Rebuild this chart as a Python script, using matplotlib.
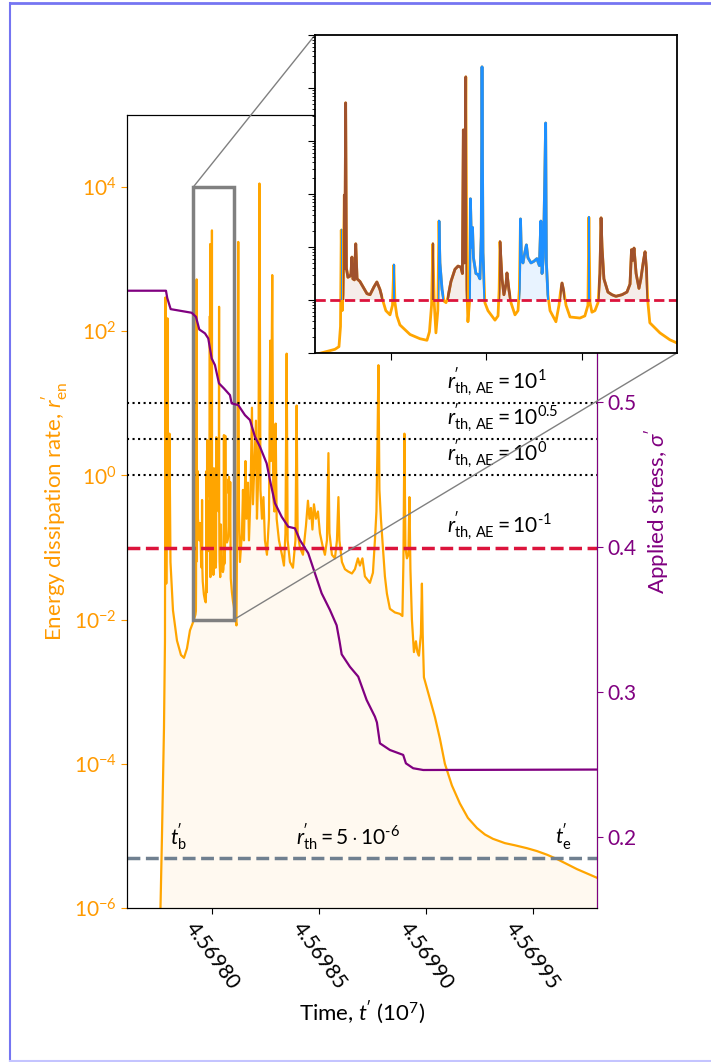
import numpy as np
import matplotlib
matplotlib.use("Agg")
import matplotlib.pyplot as plt
from matplotlib.patches import Rectangle
from matplotlib.lines import Line2D
from matplotlib.ticker import FormatStrFormatter, NullLocator, NullFormatter, LogLocator
from mpl_toolkits.axes_grid1.inset_locator import mark_inset

plt.rcParams["font.family"] = ["Lato", "DejaVu Sans"]
plt.rcParams["mathtext.fontset"] = "custom"
plt.rcParams["mathtext.rm"] = "Lato"
plt.rcParams["mathtext.it"] = "Lato:italic"
plt.rcParams["mathtext.bf"] = "Lato:bold"
plt.rcParams["axes.unicode_minus"] = False

# time t' = (T_BASE + t_off), shown on the axis in units of 1e7
T_BASE = 45697000

# energy dissipation rate, log10(r'_en)
t_off = [749.8, 763.8, 773.2, 777.8, 780.2, 783.9, 789.5, 793.3, 798.9, 803.6,
         815.3, 834.0, 852.7, 866.8, 880.8, 894.8,
         910.0, 915.2, 920.5, 922.6, 923.4, 923.8, 924.3, 924.7, 925.4, 925.7,
         926.1, 926.5, 927.3, 928.4, 928.9, 929.4, 929.9, 930.7, 931.4, 932.1,
         933.6, 935.2, 937.3, 938.9, 941.0, 942.5, 944.1, 945.7, 947.2, 949.4,
         950.7, 951.4, 952.0, 953.0, 954.6, 959.9, 965.1, 968.8, 970.1, 971.2,
         971.9, 972.6, 973.5, 974.5, 975.1, 975.6, 976.7, 977.7, 978.8, 979.8,
         981.4, 983.5, 985.1, 986.6, 987.4, 987.9, 988.5, 989.2, 989.8, 990.3,
         991.1, 991.6, 992.2, 992.7, 993.2, 994.5, 995.6, 996.6, 997.3, 997.7,
         998.2, 999.2, 1000.8, 1004.5, 1006.1, 1006.7, 1007.1, 1008.2, 1009.2,
         1010.3, 1010.8, 1011.8, 1012.9, 1015.0, 1016.6, 1017.3, 1017.9, 1018.4,
         1019.2, 1020.2, 1021.0, 1021.8, 1023.4, 1024.9, 1026.5, 1027.8, 1028.6,
         1029.2, 1029.9, 1030.6, 1031.1, 1031.5, 1032.3, 1033.4, 1036.5, 1038.1,
         1038.9, 1039.7, 1040.7, 1041.8, 1043.9, 1049.1, 1051.7, 1053.3, 1053.8,
         1054.4, 1055.4, 1057.0, 1058.6, 1059.6, 1060.2, 1060.7, 1061.7, 1063.8,
         1065.9, 1068.0, 1071.2, 1073.8, 1075.4, 1076.2, 1076.9, 1077.5, 1078.6,
         1080.1, 1081.1, 1082.5, 1083.3, 1084.0, 1084.8, 1085.8, 1091.1, 1096.3,
         1100.0,
         1105.4, 1112.5, 1117.1, 1120.9, 1124.2, 1128.8, 1138.2, 1142.9, 1147.6,
         1154.6, 1159.3, 1166.3, 1171.0, 1178.0, 1185.0, 1189.7, 1196.7, 1203.7,
         1208.4, 1215.4, 1220.1, 1224.8, 1231.8, 1238.8, 1245.8, 1255.2, 1264.6,
         1270.6, 1273.9, 1280.0, 1284.7, 1290.3, 1295.9, 1300.6, 1311.4, 1325.4,
         1334.8, 1341.8, 1347.4, 1352.1, 1362.8, 1376.9, 1388.6, 1394.2, 1398.9,
         1409.6, 1423.7, 1437.7, 1447.1, 1454.1, 1461.1, 1468.1, 1475.2, 1484.5,
         1493.9, 1503.2, 1517.3, 1526.6, 1536.0, 1543.0, 1547.7, 1559.4, 1573.4,
         1582.8, 1589.8, 1594.5, 1606.2, 1620.2, 1634.3, 1653.0, 1667.0, 1681.1,
         1690.4, 1702.1, 1713.8, 1737.2, 1751.3, 1760.6, 1767.7, 1772.3, 1777.0,
         1781.7, 1788.7, 1798.1, 1807.4, 1816.8, 1830.8, 1854.2, 1877.6, 1889.3,
         1894.0, 1898.7, 1903.4, 1910.4, 1917.4, 1922.1, 1926.8, 1933.8, 1943.2,
         1952.5, 1959.5, 1966.6, 1975.9, 1980.6, 1984.3, 1990.0, 2018.0, 2041.4,
         2064.8, 2088.2, 2121.0, 2158.4, 2195.9, 2238.0, 2275.4, 2312.9, 2369.0,
         2415.8, 2472.0, 2518.8, 2565.6, 2612.4, 2659.2, 2706.0, 2752.8, 2799.6]
log_rate = [-7.0, -5.0, -3.5, -2.3, 2.47, -1.5, 2.18, -1.0, 0.58, -1.2,
            -1.87, -2.29, -2.49, -2.53, -2.40, -2.15,
            -2.03, -1.98, -1.93, -1.88, -1.5, 0.32, -1.2, -0.9, 0.98, -0.4,
            2.72, -0.4, -0.57, -0.55, -0.5, -0.19, -0.6, -0.62, 0.06, -0.6,
            -0.65, -0.75, -0.88, -0.9, -0.75, -0.66, -0.8, -1.02, -1.2, -1.28,
            -1.1, -0.34, -1.05, -1.3, -1.47, -1.65, -1.73, -1.76, -1.6, -1.1,
            0.06, -1.05, -1.62, -1.2, 0.49, -0.3, -0.8, -1.02, -1.05, -0.95,
            -0.65, -0.42, -0.36, -0.38, -0.5, 2.21, -0.3, 3.21, -0.8, -1.41,
            -1.05, 0.91, 0.0, 0.37, -0.2, -0.5, -0.52, -0.6, 0.2, 3.40,
            -0.1, -1.05, -1.2, -1.38, -1.3, -0.8, 0.1, -0.6, -0.9,
            -0.7, -0.49, -0.8, -1.05, -1.28, -1.2, -0.8, 0.53, -0.2,
            -0.3, -0.1, 0.04, -0.2, -0.3, -0.27, -0.22, -0.35, 0.49,
            -0.5, -0.2, 1.2, 2.34, -0.3, -0.9, -1.2, -1.41, -1.1,
            -0.85, -0.68, -0.85, -1.1, -1.32, -1.34, -1.3, -1.1, 0.56,
            -1.05, -1.23, -1.2, -1.05, -0.5, 0.55, 0.0, -0.6, -0.85,
            -0.9, -0.93, -0.9, -0.85, -0.7, -0.05, -0.25, -0.02, -0.5,
            -0.78, -0.6, -0.25, -0.09, -0.4, -1.05, -1.43, -1.62, -1.75,
            -1.81,
            -1.95, -2.08, 0.0, 3.24, -0.5, -1.2, -0.8, -0.2, -0.9,
            0.2, -0.6, -0.1, -0.9, -0.3, 0.94, -0.4, 0.2, 0.76,
            -0.6, 0.1, 4.05, -0.2, -0.6, -0.3, -0.9, -1.1, -0.6,
            1.87, 0.2, 2.78, -0.3, -0.5, 0.72, -0.6, -0.9, -1.1,
            -1.25, -0.8, 1.69, -0.9, -1.2, -1.28, -0.9, 0.97, -0.8,
            -1.0, -1.1, -0.7, -0.35, -0.6, -0.45, -0.75, -0.4, -0.6,
            -0.5, -0.8, -1.0, -1.1, -0.9, 0.31, -0.8, -1.1, -1.15,
            -0.9, -0.3, -0.9, -1.2, -1.3, -1.33, -1.36, -1.3, -1.15,
            -1.25, -1.15, -1.4, -1.49, -1.35, -0.9, -0.5, 0.35, 1.53,
            -0.2, -0.6, -1.0, -1.4, -1.64, -1.85, -1.9, -1.92, -1.95,
            -1.2, 0.58, -1.0, -1.15, -1.1, -0.3, -1.3, -2.0, -2.45,
            -2.3, -2.45, -2.5, -2.2, -1.5, -2.2, -2.8, -3.1, -3.35,
            -3.65, -4.0, -4.3, -4.55, -4.75, -4.89, -4.98, -5.04, -5.1,
            -5.13, -5.17, -5.21, -5.26, -5.32, -5.39, -5.46, -5.52, -5.58]

# applied stress sigma'
stress_t_off = [600, 782.5, 788.6, 804.5, 848.0, 902.8, 922.9, 938.4, 965.0, 980.5,
                996.4, 1011.8, 1030.6, 1054.0, 1082.0, 1090.0, 1120.9, 1152.2,
                1175.6, 1199.0, 1222.4, 1253.8, 1269.2, 1292.6, 1324.0, 1354.9,
                1386.2, 1409.6, 1448.5, 1479.8, 1511.2, 1550.0, 1581.4, 1595.0,
                1605.0, 1643.6, 1682.5, 1721.8, 1760.6, 1770.0, 1784.0, 1830.8,
                1893.0, 1905.7, 1939.8, 1986.6, 2799.6]
stress = [0.5768, 0.5768, 0.5717, 0.5641, 0.5630, 0.5616, 0.5588, 0.5501, 0.5474,
          0.5439, 0.5301, 0.5255, 0.5129, 0.5094, 0.5048, 0.4991, 0.4979, 0.4910,
          0.4876, 0.4761, 0.4692, 0.4577, 0.4462, 0.4303, 0.4209, 0.4140, 0.4129,
          0.4048, 0.3957, 0.3819, 0.3681, 0.3566, 0.3460, 0.3350, 0.3260, 0.3174,
          0.3106, 0.2945, 0.2830, 0.2790, 0.2646, 0.2600, 0.2566, 0.2508, 0.2474,
          0.2462, 0.2465]

P = r"^{\!\prime}"  # prime set close to its letter
ae_levels = [10 ** 1, 10 ** 0.5, 10 ** 0, 10 ** -1]
ae_labels = [r"$r%s_{\mathrm{th,\,AE}} = 10^{1}$" % P, r"$r%s_{\mathrm{th,\,AE}} = 10^{0.5}$" % P,
             r"$r%s_{\mathrm{th,\,AE}} = 10^{0}$" % P, r"$r%s_{\mathrm{th,\,AE}} = 10^{\text{-}1}$" % P]
r_th = 5e-6
inset_off = (910, 1100)

ORANGE = "orange"
TXT_ORANGE = "#ff9a00"
PURPLE = "purple"
event_colors = ["#1e90ff", "#a0522d"]

t = (T_BASE + np.array(t_off)) / 1e7
rate = 10 ** np.array(log_rate)
st = (T_BASE + np.array(stress_t_off)) / 1e7
r_ae = ae_levels[-1]

fig = plt.figure(figsize=(7.11, 10.62), dpi=100)
ax = fig.add_axes([0.1786, 0.145, 0.661, 0.7467])

ax.fill_between(t, 1e-8, rate, color=ORANGE, alpha=0.06, lw=0)
ax.plot(t, rate, color=ORANGE, lw=1.6)
for lv in ae_levels[:3]:
    ax.axhline(lv, color="k", ls=":", lw=1.5)
ax.axhline(r_ae, color="crimson", ls="--", lw=2.5)
ax.axhline(r_th, color="slategray", ls="--", lw=2.5)

ax.set_yscale("log")
ax.set_ylim(1e-6, 1e5)
ax.set_xlim((T_BASE + 600) / 1e7, (T_BASE + 2800) / 1e7)
ax.set_yticks([1e-6, 1e-4, 1e-2, 1e0, 1e2, 1e4])
ax.yaxis.set_minor_locator(NullLocator())
ax.set_xticks([4.5698, 4.56985, 4.5699, 4.56995])
ax.xaxis.set_major_formatter(FormatStrFormatter("%.5f"))
ax.tick_params(axis="x", labelsize=15, length=4)
ax.tick_params(axis="y", colors=TXT_ORANGE, labelsize=15, length=4)
for lbl in ax.get_xticklabels():
    lbl.set_rotation(-54)
    lbl.set_color("k")
ax.set_xlabel(r"Time, $t%s$ $(10^7)$" % P, fontsize=16)
ax.set_ylabel(r"Energy dissipation rate, $r%s_{\mathrm{en}}$" % P, fontsize=16,
              color=TXT_ORANGE, labelpad=2)

x_lab = (T_BASE + 2098) / 1e7
for lv, lab in zip(ae_levels, ae_labels):
    ax.text(x_lab, lv * 1.12, lab, fontsize=15, ha="left", va="bottom")
ax.text((T_BASE + 801) / 1e7, r_th * 1.15, r"$t%s_{\mathrm{b}}$" % P, fontsize=15, ha="left", va="bottom")
ax.text((T_BASE + 1634) / 1e7, r_th * 1.15, r"$r%s_{\mathrm{th}} = 5\cdot10^{\text{-}6}$" % P,
        fontsize=15, ha="center", va="bottom")
ax.text((T_BASE + 2603) / 1e7, r_th * 1.15, r"$t%s_{\mathrm{e}}$" % P, fontsize=15, ha="left", va="bottom")

ax2 = ax.twinx()
ax2.plot(st, stress, color=PURPLE, lw=1.6)
ax2.set_ylim(0.151, 0.698)
ax2.set_yticks([0.2, 0.3, 0.4, 0.5])
ax2.spines["right"].set_color(PURPLE)
ax2.tick_params(axis="y", colors=PURPLE, labelsize=15, length=4)
ax2.set_ylabel(r"Applied stress, $\sigma%s$" % P, fontsize=16, color=PURPLE)

# inset
axins = fig.add_axes([0.443, 0.6676, 0.509, 0.2994])
axins.plot(t, rate, color=ORANGE, lw=2)
lr = np.array(log_rate)
thr = np.log10(r_ae)
lo, hi = (T_BASE + inset_off[0]) / 1e7, (T_BASE + inset_off[1]) / 1e7
above = lr > thr
k = 0
i = 1
while i < len(lr):
    if above[i] and not above[i - 1]:
        j = i
        while j + 1 < len(lr) and above[j + 1]:
            j += 1
        xs = t[i - 1] + (thr - lr[i - 1]) / (lr[i] - lr[i - 1]) * (t[i] - t[i - 1])
        xe = t[j] + (thr - lr[j]) / (lr[j + 1] - lr[j]) * (t[j + 1] - t[j])
        if lo <= xs <= hi:
            c = event_colors[k % 2]
            k += 1
            clip = Rectangle((xs, r_ae), xe - xs, 1e8, transform=axins.transData)
            f = axins.fill_between(t, r_ae, rate, color=c, alpha=0.1, lw=0)
            f.set_clip_path(clip)
            ln, = axins.plot(t, rate, color=c, lw=2)
            ln.set_clip_path(clip)
        i = j + 1
    i += 1
axins.axhline(r_ae, color="crimson", ls="--", lw=2)
axins.set_yscale("log")
axins.set_xlim(lo, hi)
axins.set_ylim(1e-2, 1e4)
axins.set_xticks([4.569795, 4.5698, 4.569805])
axins.yaxis.set_major_locator(LogLocator(base=10, numticks=20))
axins.yaxis.set_minor_locator(LogLocator(base=10, subs=np.arange(2, 10), numticks=20))
axins.xaxis.set_major_formatter(NullFormatter())
axins.yaxis.set_major_formatter(NullFormatter())
axins.yaxis.set_minor_formatter(NullFormatter())
axins.tick_params(which="major", length=5)
axins.tick_params(which="minor", length=2.5)
for sp in axins.spines.values():
    sp.set_linewidth(1.3)

pp, p1, p2 = mark_inset(ax, axins, loc1=2, loc2=4, fc="none", ec="0.5", lw=1)
pp.set_linewidth(2.5)
pp.set_zorder(3)

# frame around the figure
fig.add_artist(Line2D([10 / 711, 1], [1 - 3 / 1062, 1 - 3 / 1062], transform=fig.transFigure,
                      color="#7575f2", lw=2))
fig.add_artist(Line2D([10 / 711, 10 / 711], [1 - 3 / 1062, 1 / 1062], transform=fig.transFigure,
                      color="#7575f2", lw=1.5))
fig.add_artist(Line2D([10 / 711, 1], [1 / 1062, 1 / 1062], transform=fig.transFigure,
                      color="#c4c4ff", lw=1.5))

fig.savefig("out.png", dpi=100)
